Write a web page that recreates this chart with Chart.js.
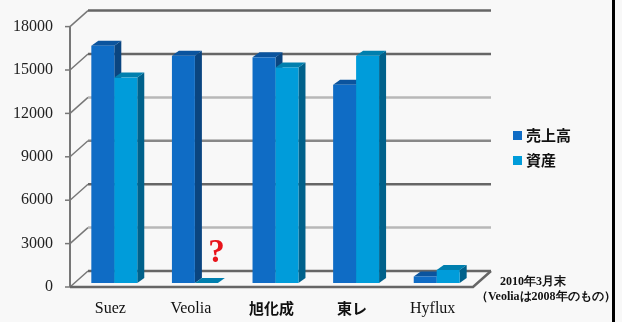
<!DOCTYPE html>
<html>
<head>
<meta charset="utf-8">
<script src="https://cdn.jsdelivr.net/npm/chart.js@4"></script>
<style>
  html, body { margin: 0; padding: 0; background: #f8f8f8; }
  #wrap { width: 622px; height: 322px; }
</style>
</head>
<body>
<div id="wrap"><canvas id="chart"></canvas></div>
<script>
// Water business players - sales vs assets (3D column look)

const categories = ['Suez', 'Veolia', '旭化成', '東レ', 'Hyflux'];
const salesValues = [16400, 15700, 15600, 13700, 450];
const assetValues = [14200, 0, 14900, 15700, 900];
const seriesLabels = ['売上高', '資産'];
const yMax = 18000;
const yStep = 3000;
const noteLines = ['2010年3月末', '（Veoliaは2008年のもの）'];

// face colours per series: front, top, side
const frontColors = ['#0f6cc5', '#009cda'];
const topColors = ['#0b549e', '#007fae'];
const sideColors = ['#0a4580', '#00618b'];

// back wall gridline shades, bottom to top
const gridShades = ['#666', '#b8b8b8', '#666', '#888', '#b8b8b8', '#666', '#666'];

const WALL_DX = 18, WALL_DY = 16;   // depth of the back wall
const BAR_SX = 4, BAR_SY = 4;       // bars sit slightly behind the front plane
const BAR_DX = 7, BAR_DY = 5;       // depth of each bar

const serif = '"Liberation Serif", "DejaVu Serif", serif';
const jp = '"Noto Sans CJK JP", sans-serif';

const wall3d = {
    id: 'wall3d',
    beforeDraw(chart) {
        const ctx = chart.ctx;
        ctx.save();
        ctx.fillStyle = '#f8f8f8';
        ctx.fillRect(0, 0, chart.width, chart.height);
        ctx.restore();
    },
    beforeDatasetsDraw(chart) {
        const ctx = chart.ctx;
        const { left, right, bottom, top } = chart.chartArea;
        const y = chart.scales.y;
        ctx.save();
        ctx.lineCap = 'butt';
        y.ticks.forEach((t, i) => {
            const py = y.getPixelForValue(t.value);
            // diagonal from front axis to the wall
            ctx.strokeStyle = '#777';
            ctx.lineWidth = 1.5;
            ctx.beginPath();
            ctx.moveTo(left, py);
            ctx.lineTo(left + WALL_DX, py - WALL_DY);
            ctx.stroke();
            // line on the back wall
            ctx.strokeStyle = gridShades[i % gridShades.length];
            ctx.lineWidth = 2.5;
            ctx.beginPath();
            ctx.moveTo(left + WALL_DX, py - WALL_DY);
            ctx.lineTo(right + WALL_DX, py - WALL_DY);
            ctx.stroke();
            // tick stub
            ctx.strokeStyle = '#777';
            ctx.lineWidth = 1.5;
            ctx.beginPath();
            ctx.moveTo(left - 5, py);
            ctx.lineTo(left, py);
            ctx.stroke();
        });
        // front vertical axis
        ctx.strokeStyle = '#777';
        ctx.lineWidth = 2;
        ctx.beginPath();
        ctx.moveTo(left, top);
        ctx.lineTo(left, bottom);
        ctx.stroke();
        // floor front edge and right edge
        ctx.strokeStyle = '#666';
        ctx.lineWidth = 2.5;
        ctx.beginPath();
        ctx.moveTo(left, bottom);
        ctx.lineTo(right, bottom);
        ctx.lineTo(right + WALL_DX, bottom - WALL_DY);
        ctx.stroke();
        ctx.restore();
    },
    afterDatasetsDraw(chart) {
        const ctx = chart.ctx;
        const metas = chart.data.datasets.map((d, i) => chart.getDatasetMeta(i));
        ctx.save();
        categories.forEach((c, idx) => {
            metas.forEach((meta, s) => {
                const bar = meta.data[idx];
                if (!bar) return;
                const p = bar.getProps(['x', 'y', 'base', 'width'], true);
                const x0 = p.x - p.width / 2 + BAR_SX;
                const x1 = p.x + p.width / 2 + BAR_SX;
                const yt = p.y - BAR_SY;
                const yb = p.base - BAR_SY;
                // side face
                ctx.fillStyle = sideColors[s];
                ctx.beginPath();
                ctx.moveTo(x1, yt);
                ctx.lineTo(x1 + BAR_DX, yt - BAR_DY);
                ctx.lineTo(x1 + BAR_DX, yb - BAR_DY);
                ctx.lineTo(x1, yb);
                ctx.closePath();
                ctx.fill();
                // top face
                ctx.fillStyle = topColors[s];
                ctx.beginPath();
                ctx.moveTo(x0, yt);
                ctx.lineTo(x0 + BAR_DX, yt - BAR_DY);
                ctx.lineTo(x1 + BAR_DX, yt - BAR_DY);
                ctx.lineTo(x1, yt);
                ctx.closePath();
                ctx.fill();
                // front face
                ctx.fillStyle = frontColors[s];
                ctx.fillRect(x0, yt, x1 - x0, yb - yt);
            });
        });
        ctx.restore();
    },
    afterDraw(chart) {
        const ctx = chart.ctx;
        ctx.save();

        // red question mark over Veolia's missing asset figure
        const q = chart.getDatasetMeta(1).data[1];
        if (q) {
            ctx.fillStyle = '#e8141b';
            ctx.font = 'bold 33px ' + serif;
            ctx.textAlign = 'center';
            ctx.textBaseline = 'alphabetic';
            ctx.fillText('?', q.x + BAR_SX + 10, q.y - 25);
        }

        // legend
        ctx.textAlign = 'left';
        ctx.textBaseline = 'middle';
        ctx.font = 'bold 15px ' + jp;
        seriesLabels.forEach((lab, i) => {
            const ly = 135 + i * 25;
            ctx.fillStyle = frontColors[i];
            ctx.fillRect(513, ly - 4, 9, 9);
            ctx.fillStyle = '#111';
            ctx.fillText(lab, 526, ly);
        });

        // date note under the chart
        ctx.fillStyle = '#111';
        ctx.font = 'bold 12px ' + serif;
        ctx.fillText(noteLines[0], 500, 282);
        ctx.fillText(noteLines[1], 476, 297);

        // black frame edge on the right
        ctx.fillStyle = '#000';
        ctx.fillRect(612, 0, 3, chart.height);
        ctx.restore();
    }
};

const chart = new Chart(document.getElementById('chart'), {
    type: 'bar',
    data: {
        labels: categories,
        datasets: [
            { label: seriesLabels[0], data: salesValues, backgroundColor: 'rgba(0,0,0,0)' },
            { label: seriesLabels[1], data: assetValues, backgroundColor: 'rgba(0,0,0,0)' }
        ]
    },
    options: {
        responsive: true,
        maintainAspectRatio: false,
        animation: false,
        events: [],
        layout: { padding: { top: 24, right: 149, left: 0, bottom: 0 } },
        datasets: { bar: { categoryPercentage: 0.57, barPercentage: 1.0, clip: false } },
        plugins: { legend: { display: false }, tooltip: { enabled: false } },
        scales: {
            x: {
                grid: { display: false, drawTicks: false },
                border: { display: false },
                ticks: {
                    padding: 12,
                    color: '#111',
                    font: (c) => (c.index === 2 || c.index === 3)
                        ? { family: jp, size: 15, weight: 'bold' }
                        : { family: serif, size: 16 }
                },
                afterFit: (s) => { s.height = 35; }
            },
            y: {
                min: 0,
                max: yMax,
                grid: { display: false, drawTicks: false },
                border: { display: false },
                ticks: {
                    stepSize: yStep,
                    padding: 17,
                    color: '#222',
                    font: { family: serif, size: 16 },
                    callback: (v) => String(v)
                },
                afterFit: (s) => { s.width = 70; }
            }
        }
    },
    plugins: [wall3d]
});
</script>
</body>
</html>
